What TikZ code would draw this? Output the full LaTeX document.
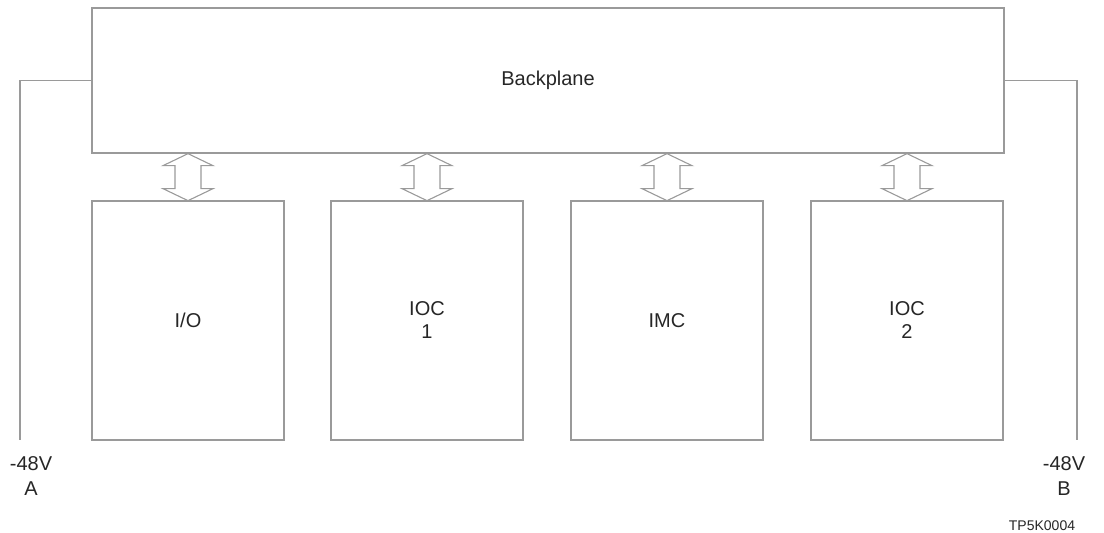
\documentclass[tikz,border=0pt]{standalone}
\usepackage{fontspec}
\setmainfont{Liberation Sans}
\usetikzlibrary{calc}
\definecolor{linegray}{HTML}{9A9A9A}
\definecolor{txtgray}{HTML}{262626}
\begin{document}
\begin{tikzpicture}[x=1pt,y=-1pt,
  box/.style={draw=linegray, line width=1.3pt, inner sep=0pt, text=txtgray,
    font=\fontsize{20}{23}\selectfont, align=center},
  wire/.style={draw=linegray, line width=1.3pt},
  arr/.style={draw=linegray, line width=1.1pt, line join=miter},
  lbl/.style={text=txtgray, font=\fontsize{20}{25}\selectfont, align=center, inner sep=0pt}]
\useasboundingbox (0,0) rectangle (1104,533);
\node[box, minimum width=912pt, minimum height=145pt] (bp) at (548,80.5) {Backplane};
\node[box, minimum width=192pt, minimum height=239pt] (io)   at (188,320.5) {I/O};
\node[box, minimum width=192pt, minimum height=239pt] (ioc1) at (427,320.5) {IOC\\1};
\node[box, minimum width=192pt, minimum height=239pt] (imc)  at (667,320.5) {IMC};
\node[box, minimum width=192pt, minimum height=239pt] (ioc2) at (907,320.5) {IOC\\2};
\coordinate (lw) at (20,440);
\coordinate (rw) at (1077,440);
\draw[wire] (bp.west) -| (lw);
\draw[wire] (bp.east) -| (rw);
\foreach \b in {io,ioc1,imc,ioc2}{
  \draw[arr] let \p1=(\b.north), \p2=(bp.south) in
    (\x1,\y2) -- ++(25,12) -- ++(-12,0) -- ++(0,23) -- ++(12,0) -- ++(-25,12)
    -- ++(-25,-12) -- ++(12,0) -- ++(0,-23) -- ++(-12,0) -- cycle;
}
\node[lbl] (la) at (31,476) {-48V\\A};
\node[lbl] (lb) at (1064,476) {-48V\\B};
\node[text=txtgray, font=\fontsize{14}{16}\selectfont, inner sep=0pt] (tp) at (1042,526) {TP5K0004};
\end{tikzpicture}
\end{document}
